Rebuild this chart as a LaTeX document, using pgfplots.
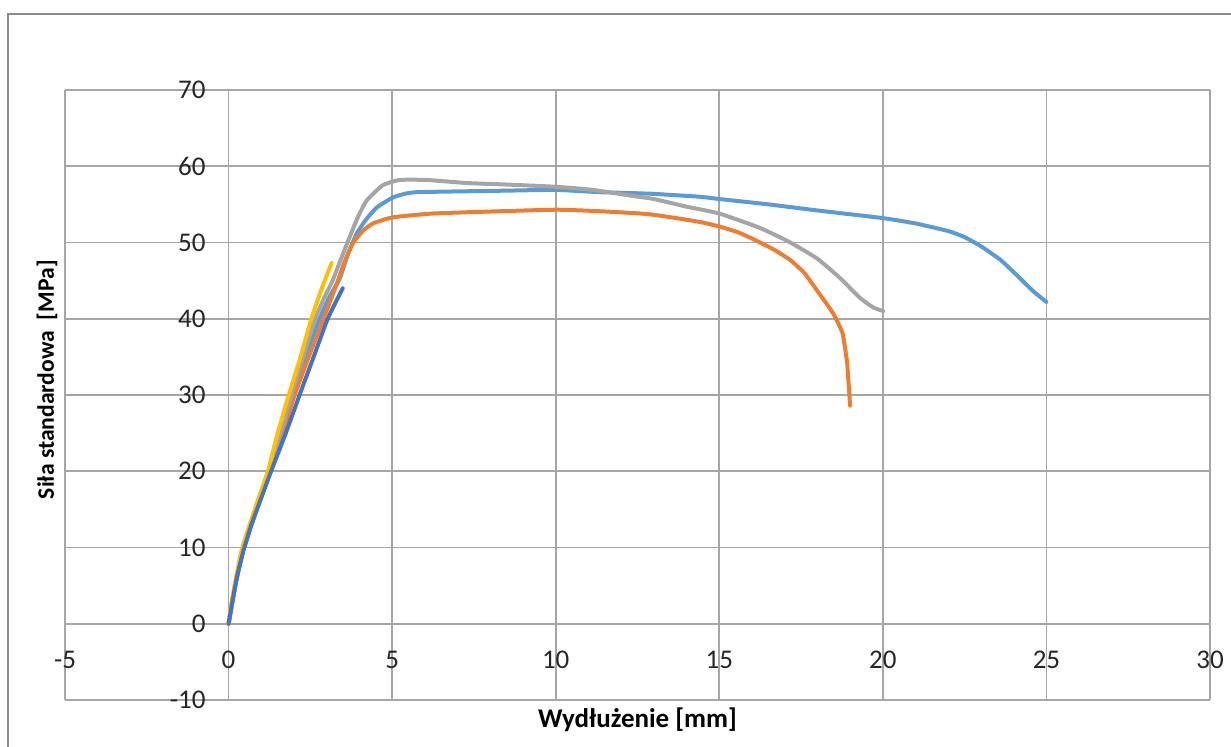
\documentclass[border=0pt]{standalone}
\usepackage{fontspec}
\setmainfont{Carlito}
\usepackage{pgfplots}
\pgfplotsset{compat=1.18}
\definecolor{sA}{HTML}{5B9BD5}
\definecolor{sB}{HTML}{ED7D31}
\definecolor{sC}{HTML}{A5A5A5}
\definecolor{sD}{HTML}{FFC000}
\definecolor{sE}{HTML}{4472C4}
\definecolor{gridc}{HTML}{A6A6A6}
\definecolor{framec}{HTML}{8C8C8C}
\begin{document}
\begin{tikzpicture}
\begin{axis}[
  scale only axis, width=572.5pt, height=305pt,
  xmin=-5, xmax=30, ymin=-10, ymax=70,
  axis lines=middle,
  hide obscured x ticks=false,
  hide obscured y ticks=false,
  axis line style={draw=gridc, line width=0.9pt, -},
  grid=major,
  major grid style={draw=gridc, line width=0.9pt},
  xtick={-5,0,5,10,15,20,25,30},
  xticklabels={-5,0,5,10,15,20,25,30},
  ytick={-10,0,10,20,30,40,50,60,70},
  yticklabels={-10,0,10,20,30,40,50,60,70},
  major tick length=0pt,
  tick style={draw=none},
  ticklabel style={font=\fontsize{13.5}{16}\selectfont, text=black!85},
  xticklabel style={anchor=north, yshift=-10pt},
  yticklabel style={anchor=east, xshift=-8pt},
  xlabel={\textbf{Wydłużenie [mm]}},
  ylabel={\textbf{Siła standardowa\ \ [MPa]}},
  xlabel style={at={(rel axis cs:0.5,0)}, anchor=center, yshift=-10pt, font=\fontsize{13.5}{16}\selectfont},
  ylabel style={at={(rel axis cs:0,0.525)}, anchor=center, rotate=90, yshift=9pt, font=\fontsize{11.8}{14}\selectfont},
  clip=false,
  every axis plot/.append style={line width=2pt, line cap=round, line join=round, smooth, tension=0.3},
]
\coordinate (ll) at (rel axis cs:0,0);
\coordinate (ur) at (rel axis cs:1,1);
\addplot[sA] coordinates {(0,0)(0.1,2.5)(0.25,6)(0.45,9.7)(0.85,15)(1.25,20)(1.6,25)(1.95,30)(2.35,35)(2.78,40)(3.1,43)(3.4,45.3)(3.65,48.5)(3.92,51.2)(4.2,53)(4.53,54.6)(5.02,55.9)(5.4,56.4)(5.75,56.6)(7,56.7)(8.5,56.8)(10,56.9)(11.35,56.6)(12.88,56.4)(14.4,56.0)(15,55.7)(16.5,55.0)(18,54.2)(20,53.2)(21,52.5)(22,51.5)(22.5,50.7)(23,49.5)(23.6,47.7)(24.05,45.9)(24.6,43.6)(25.0,42.2)};
\addplot[sB] coordinates {(0,0)(0.1,2.5)(0.25,6)(0.45,9.7)(0.85,15)(1.27,20)(1.65,25)(2.02,30)(2.45,35)(2.9,40)(3.3,44.5)(3.55,47.5)(3.8,49.9)(4.1,51.5)(4.41,52.5)(5.02,53.3)(6.24,53.8)(8.29,54.1)(10.04,54.3)(11.35,54.1)(12.88,53.7)(14.4,52.7)(15,52.1)(15.6,51.3)(16.25,50.0)(16.7,49.0)(17.17,47.7)(17.6,46.0)(17.99,43.7)(18.48,40.7)(18.76,38.2)(18.85,36)(18.91,34.1)(18.96,31)(19.0,28.6)};
\addplot[sC] coordinates {(0,0)(0.1,2.5)(0.25,6)(0.45,9.7)(0.85,15)(1.22,20)(1.58,25)(1.92,30)(2.28,35)(2.65,40)(2.95,43)(3.18,45)(3.45,48)(3.7,50.7)(3.95,53.3)(4.22,55.5)(4.71,57.5)(5.23,58.2)(6.06,58.2)(7.28,57.8)(8.5,57.6)(10.04,57.3)(11.14,56.9)(12.36,56.1)(13,55.7)(14,54.7)(15,53.8)(16.25,51.9)(17.17,50.0)(17.99,47.9)(18.7,45.3)(19.31,42.7)(19.7,41.5)(20.01,41.0)};
\addplot[sD] coordinates {(0,0)(0.1,3)(0.25,6.5)(0.42,10)(0.8,15)(1.2,20)(1.5,25)(1.84,30)(2.2,35)(2.53,40)(2.85,44)(3.15,47.3)};
\addplot[sE] coordinates {(0,0)(0.1,2.5)(0.25,6)(0.45,9.5)(0.7,13)(1.0,16.5)(1.3,20)(1.75,25)(2.17,30)(2.6,35)(3.03,40)(3.49,44)};
\end{axis}
\pgfresetboundingbox
\path[use as bounding box] ([shift={(-32.5pt,-23.5pt)}]ll) rectangle ([shift={(10.5pt,45pt)}]ur);
\draw[framec, line width=0.75pt] ([shift={(-28.5pt,-40pt)}]ll) |- ([shift={(30pt,38pt)}]ur);
\end{tikzpicture}
\end{document}
